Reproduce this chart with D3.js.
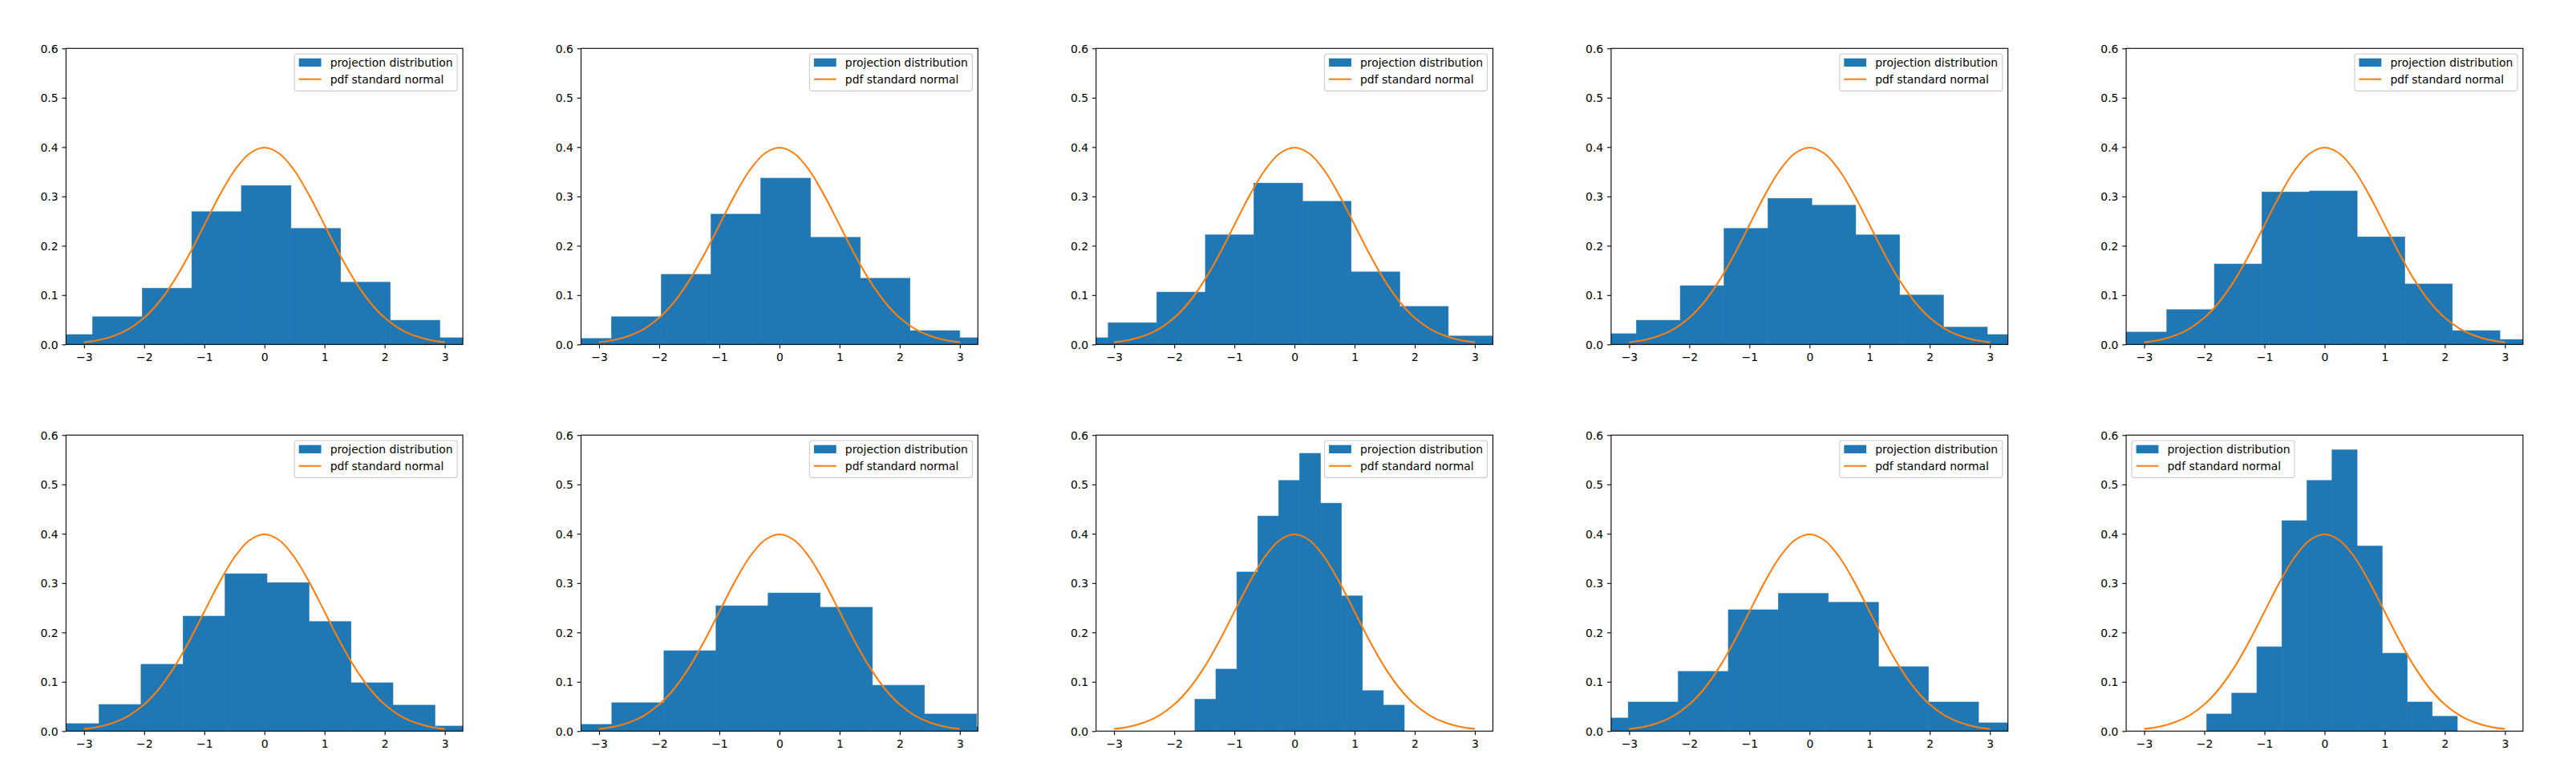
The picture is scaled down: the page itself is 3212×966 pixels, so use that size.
<!DOCTYPE html>
<html lang="en">
<head>
    <meta charset="UTF-8">
    <title>Projection distributions</title>
    <script src="https://cdnjs.cloudflare.com/ajax/libs/d3/7.8.5/d3.min.js"></script>
    <style>
        body {
            margin: 0;
            background: #fff;
        }

        svg {
            display: block;
            font-family: "DejaVu Sans", sans-serif;
        }

        .bar {
            fill: #1f77b4;
            stroke: #1f77b4;
            stroke-width: 0.6px;
        }

        .pdf {
            fill: none;
            stroke: #ff7f0e;
            stroke-width: 2.08px;
        }

        .spine {
            fill: none;
            stroke: #000;
            stroke-width: 1.1px;
        }

        text {
            font-size: 13.9px;
            fill: #000;
        }
    </style>
</head>
<body>
<svg width="3212" height="966"></svg>

<script>

    // bin edges and densities for each histogram
    var edges0 = [-3.683, -2.858, -2.033, -1.208, -0.383, 0.442, 1.267, 2.092, 2.917, 3.742];
    var dens0 = [0.020, 0.056, 0.114, 0.269, 0.322, 0.235, 0.126, 0.049, 0.0135];

    var edges1 = [-3.621, -2.793, -1.965, -1.138, -0.310, 0.517, 1.345, 2.172, 3.000, 3.828];
    var dens1 = [0.012, 0.056, 0.142, 0.264, 0.337, 0.217, 0.134, 0.028, 0.0135];

    var edges2 = [-3.906, -3.098, -2.290, -1.482, -0.674, 0.134, 0.942, 1.750, 2.558, 3.366];
    var dens2 = [0.0135, 0.044, 0.106, 0.222, 0.327, 0.290, 0.147, 0.077, 0.017];

    var edges3 = [-3.610, -2.880, -2.150, -1.421, -0.691, 0.038, 0.768, 1.498, 2.227, 2.957, 3.687];
    var dens3 = [0.0217, 0.049, 0.119, 0.235, 0.296, 0.282, 0.222, 0.100, 0.035, 0.020];

    var edges4 = [-3.415, -2.624, -1.833, -1.041, -0.250, 0.542, 1.333, 2.125, 2.916, 3.707];
    var dens4 = [0.025, 0.0705, 0.163, 0.309, 0.311, 0.218, 0.1225, 0.028, 0.010];

    var edges5 = [-3.448, -2.750, -2.052, -1.353, -0.655, 0.043, 0.741, 1.440, 2.138, 2.836, 3.534];
    var dens5 = [0.0152, 0.054, 0.1355, 0.233, 0.319, 0.301, 0.222, 0.098, 0.0526, 0.0103];

    var edges6 = [-3.655, -2.788, -1.921, -1.055, -0.188, 0.679, 1.546, 2.412, 3.279, 4.146];
    var dens6 = [0.0136, 0.0575, 0.163, 0.254, 0.280, 0.251, 0.093, 0.0347, 0.0087];

    var edges7 = [-1.656, -1.308, -0.960, -0.611, -0.263, 0.085, 0.433, 0.781, 1.130, 1.478, 1.826];
    var dens7 = [0.0645, 0.1257, 0.3225, 0.436, 0.508, 0.563, 0.462, 0.274, 0.082, 0.0526];

    var edges8 = [-3.848, -3.016, -2.184, -1.351, -0.519, 0.313, 1.146, 1.978, 2.811, 3.643];
    var dens8 = [0.0266, 0.059, 0.121, 0.246, 0.279, 0.261, 0.1306, 0.059, 0.0168];

    var edges9 = [-1.960, -1.543, -1.126, -0.710, -0.293, 0.124, 0.541, 0.958, 1.374, 1.791, 2.208];
    var dens9 = [0.0347, 0.077, 0.171, 0.4265, 0.508, 0.570, 0.375, 0.158, 0.059, 0.030];

    // standard normal pdf, sampled every 0.25
    var pdfX = [-3, -2.75, -2.5, -2.25, -2, -1.75, -1.5, -1.25, -1, -0.75, -0.5, -0.25, 0,
        0.25, 0.5, 0.75, 1, 1.25, 1.5, 1.75, 2, 2.25, 2.5, 2.75, 3];
    var pdfY = [0.0044, 0.0091, 0.0175, 0.0317, 0.0540, 0.0863, 0.1295, 0.1826, 0.2420, 0.3011, 0.3521, 0.3867, 0.3989,
        0.3867, 0.3521, 0.3011, 0.2420, 0.1826, 0.1295, 0.0863, 0.0540, 0.0317, 0.0175, 0.0091, 0.0044];

    var xTicks = [-3, -2, -1, 0, 1, 2, 3];
    var yTicks = [0, 0.1, 0.2, 0.3, 0.4, 0.5, 0.6];
    var xDomain = [-3.3, 3.3];
    var yDomain = [0, 0.6];
    var legendLabels = ['projection distribution', 'pdf standard normal'];
    var legendSide = ['right', 'right', 'right', 'right', 'right', 'right', 'right', 'right', 'right', 'left'];

    var panels = [
        [edges0, dens0], [edges1, dens1], [edges2, dens2], [edges3, dens3], [edges4, dens4],
        [edges5, dens5], [edges6, dens6], [edges7, dens7], [edges8, dens8], [edges9, dens9]
    ];

    var svg = d3.select('svg');

    var axW = 494.8;
    var axH = 369;
    var left0 = 82.3;
    var colStep = 642.2;
    var rowTops = [60.3, 542.3];

    var fs = 13.9;
    var tickLen = 4.86;

    var x = d3.scaleLinear().domain(xDomain).range([0, axW]);
    var y = d3.scaleLinear().domain(yDomain).range([axH, 0]);

    var pdfLine = d3.line()
        .x(function (d, i) { return x(pdfX[i]); })
        .y(function (d) { return y(d); })
        .curve(d3.curveCatmullRom);

    panels.forEach(function (p, k) {
        var col = k % 5;
        var row = Math.floor(k / 5);
        var edges = p[0];
        var dens = p[1];

        var g = svg.append('g')
            .attr('transform', 'translate(' + (left0 + col * colStep) + ',' + rowTops[row] + ')');

        g.append('clipPath')
            .attr('id', 'clip' + k)
            .append('rect')
            .attr('width', axW)
            .attr('height', axH);

        var plot = g.append('g').attr('clip-path', 'url(#clip' + k + ')');

        plot.selectAll('.bar')
            .data(dens)
            .enter()
            .append('rect')
            .attr('class', 'bar')
            .attr('x', function (d, i) { return x(edges[i]); })
            .attr('width', function (d, i) { return x(edges[i + 1]) - x(edges[i]); })
            .attr('y', function (d) { return y(d); })
            .attr('height', function (d) { return y(0) - y(d); });

        plot.append('path')
            .datum(pdfY)
            .attr('class', 'pdf')
            .attr('d', pdfLine);

        // axes
        var xAxis = g.append('g')
            .attr('transform', 'translate(0,' + axH + ')')
            .call(d3.axisBottom(x).tickValues(xTicks).tickSize(tickLen).tickPadding(tickLen)
                .tickFormat(d3.format('d')));
        var yAxis = g.append('g')
            .call(d3.axisLeft(y).tickValues(yTicks).tickSize(tickLen).tickPadding(tickLen)
                .tickFormat(d3.format('.1f')));

        [xAxis, yAxis].forEach(function (a) {
            a.attr('font-family', null).attr('font-size', null);
            a.select('.domain').remove();
            a.selectAll('.tick line').attr('stroke', '#000').attr('stroke-width', 1.1);
            a.selectAll('.tick text').attr('fill', '#000');
        });
        xAxis.selectAll('.tick text').attr('dy', '0.77em');
        yAxis.selectAll('.tick text').attr('dy', '0.36em');

        g.append('rect')
            .attr('class', 'spine')
            .attr('width', axW)
            .attr('height', axH);

        // legend
        var pad = 0.4 * fs;
        var handleW = 2.0 * fs;
        var gap = 0.8 * fs;
        var leg = g.append('g');
        var box = leg.append('rect')
            .attr('rx', 0.2 * fs)
            .attr('ry', 0.2 * fs)
            .attr('fill', '#fff')
            .attr('fill-opacity', 0.8)
            .attr('stroke', '#cccccc')
            .attr('stroke-width', 1.1);

        var rowMid = [10.6, 31.5];
        var textW = 0;
        legendLabels.forEach(function (lab, i) {
            var t = leg.append('text')
                .attr('x', pad + handleW + gap)
                .attr('y', rowMid[i] + 5.2)
                .text(lab);
            textW = Math.max(textW, t.node().getComputedTextLength());
        });

        leg.append('rect')
            .attr('x', pad)
            .attr('y', rowMid[0] - 5.1)
            .attr('width', handleW)
            .attr('height', 10.3)
            .attr('fill', '#1f77b4');

        leg.append('line')
            .attr('x1', pad)
            .attr('x2', pad + handleW)
            .attr('y1', rowMid[1])
            .attr('y2', rowMid[1])
            .attr('stroke', '#ff7f0e')
            .attr('stroke-width', 2.08);

        var legW = pad + handleW + gap + textW + pad;
        var legH = 46.1;
        box.attr('width', legW).attr('height', legH);

        var inset = 0.5 * fs;
        var lx = legendSide[k] === 'left' ? inset : axW - inset - legW;
        leg.attr('transform', 'translate(' + lx + ',' + inset + ')');
    });

</script>

</body>
</html>
